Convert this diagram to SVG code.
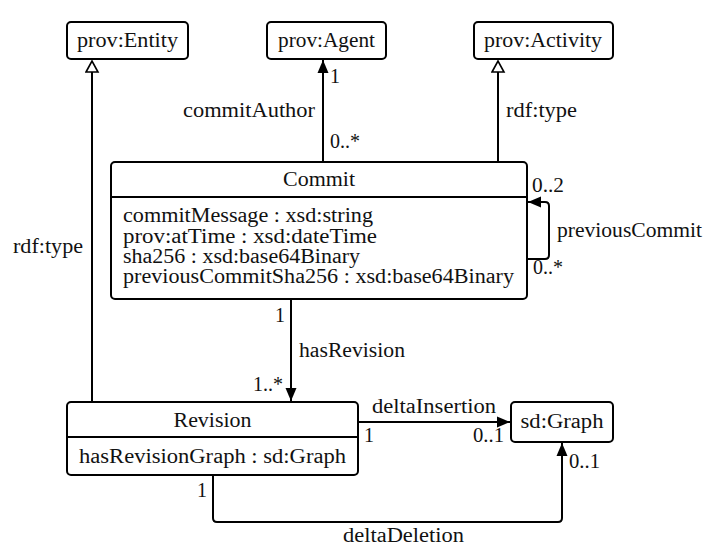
<svg xmlns="http://www.w3.org/2000/svg" width="718" height="560" viewBox="0 0 718 560">
<style>
text{font-family:"Liberation Serif","DejaVu Serif",serif;font-size:20px;fill:#111}
.box{fill:#fff;stroke:#000;stroke-width:2}
.ln{fill:none;stroke:#000;stroke-width:2}
.c{text-anchor:middle}
.e{text-anchor:end}
</style>
<defs>
<marker id="fill" markerUnits="userSpaceOnUse" markerWidth="14" markerHeight="12" refX="13" refY="6" orient="auto">
<path d="M0,0.5 L13,6 L0,11.5 z" fill="#000"/>
</marker>
<marker id="hollow" markerUnits="userSpaceOnUse" markerWidth="14" markerHeight="15" refX="12.5" refY="7.5" orient="auto">
<path d="M1.5,1.5 L12.5,7.5 L1.5,13.5 z" fill="#fff" stroke="#000" stroke-width="1.6"/>
</marker>
</defs>
<g id="connectors">
<path class="ln" d="M92,402 L92,61" marker-end="url(#hollow)"/>
<path class="ln" d="M323,162 L323,60" marker-end="url(#fill)"/>
<path class="ln" d="M498,162 L498,61" marker-end="url(#hollow)"/>
<path class="ln" d="M527,259 L545,259 Q549,259 549,255 L549,206 Q549,202 545,202 L528,202" marker-end="url(#fill)"/>
<path class="ln" d="M291,300 L291,401" marker-end="url(#fill)"/>
<path class="ln" d="M358,422 L510,422" marker-end="url(#fill)"/>
<path class="ln" d="M213,475 L213,518 Q213,522 217,522 L558,522 Q562,522 562,518 L562,443" marker-end="url(#fill)"/>
<text x="330" y="83">1</text>
<text x="315" y="117" class="e" textLength="132" lengthAdjust="spacingAndGlyphs">commitAuthor</text>
<text x="330" y="148" textLength="30" lengthAdjust="spacingAndGlyphs">0..*</text>
<text x="506" y="117" textLength="71" lengthAdjust="spacingAndGlyphs">rdf:type</text>
<text x="13" y="253" textLength="70" lengthAdjust="spacingAndGlyphs">rdf:type</text>
<text x="532" y="192" textLength="32" lengthAdjust="spacingAndGlyphs">0..2</text>
<text x="557" y="237" textLength="145" lengthAdjust="spacingAndGlyphs">previousCommit</text>
<text x="533" y="274" textLength="30" lengthAdjust="spacingAndGlyphs">0..*</text>
<text x="275" y="322">1</text>
<text x="299" y="357" textLength="106" lengthAdjust="spacingAndGlyphs">hasRevision</text>
<text x="253" y="391" textLength="30" lengthAdjust="spacingAndGlyphs">1..*</text>
<text x="372" y="413" textLength="124" lengthAdjust="spacingAndGlyphs">deltaInsertion</text>
<text x="364" y="442">1</text>
<text x="473" y="442" textLength="31" lengthAdjust="spacingAndGlyphs">0..1</text>
<text x="569" y="468" textLength="31" lengthAdjust="spacingAndGlyphs">0..1</text>
<text x="197" y="497">1</text>
<text x="343" y="542" textLength="121" lengthAdjust="spacingAndGlyphs">deltaDeletion</text>
</g>
<g id="prov-entity">
<rect class="box" x="67" y="22" width="121" height="37" rx="4"/>
<text x="127.5" y="47" class="c" textLength="101" lengthAdjust="spacingAndGlyphs">prov:Entity</text>
</g>
<g id="prov-agent">
<rect class="box" x="267" y="22" width="119" height="37" rx="4"/>
<text x="326.5" y="47" class="c" textLength="97" lengthAdjust="spacingAndGlyphs">prov:Agent</text>
</g>
<g id="prov-activity">
<rect class="box" x="474" y="22" width="139" height="37" rx="4"/>
<text x="543" y="47" class="c" textLength="118" lengthAdjust="spacingAndGlyphs">prov:Activity</text>
</g>
<g id="commit">
<rect class="box" x="111" y="162" width="416" height="137" rx="4"/>
<line class="ln" x1="111" y1="197" x2="527" y2="197"/>
<text x="319" y="186" class="c" textLength="72" lengthAdjust="spacingAndGlyphs">Commit</text>
<text x="123" y="222" textLength="250" lengthAdjust="spacingAndGlyphs">commitMessage : xsd:string</text>
<text x="123" y="243" textLength="254" lengthAdjust="spacingAndGlyphs">prov:atTime : xsd:dateTime</text>
<text x="123" y="263" textLength="237" lengthAdjust="spacingAndGlyphs">sha256 : xsd:base64Binary</text>
<text x="123" y="283" textLength="391" lengthAdjust="spacingAndGlyphs">previousCommitSha256 : xsd:base64Binary</text>
</g>
<g id="revision">
<rect class="box" x="67" y="402" width="291" height="73" rx="4"/>
<line class="ln" x1="67" y1="437" x2="358" y2="437"/>
<text x="212.5" y="427" class="c" textLength="78" lengthAdjust="spacingAndGlyphs">Revision</text>
<text x="79" y="463" textLength="267" lengthAdjust="spacingAndGlyphs">hasRevisionGraph : sd:Graph</text>
</g>
<g id="sd-graph">
<rect class="box" x="511" y="402" width="102" height="40" rx="4"/>
<text x="562" y="428" class="c" textLength="83" lengthAdjust="spacingAndGlyphs">sd:Graph</text>
</g>
</svg>
